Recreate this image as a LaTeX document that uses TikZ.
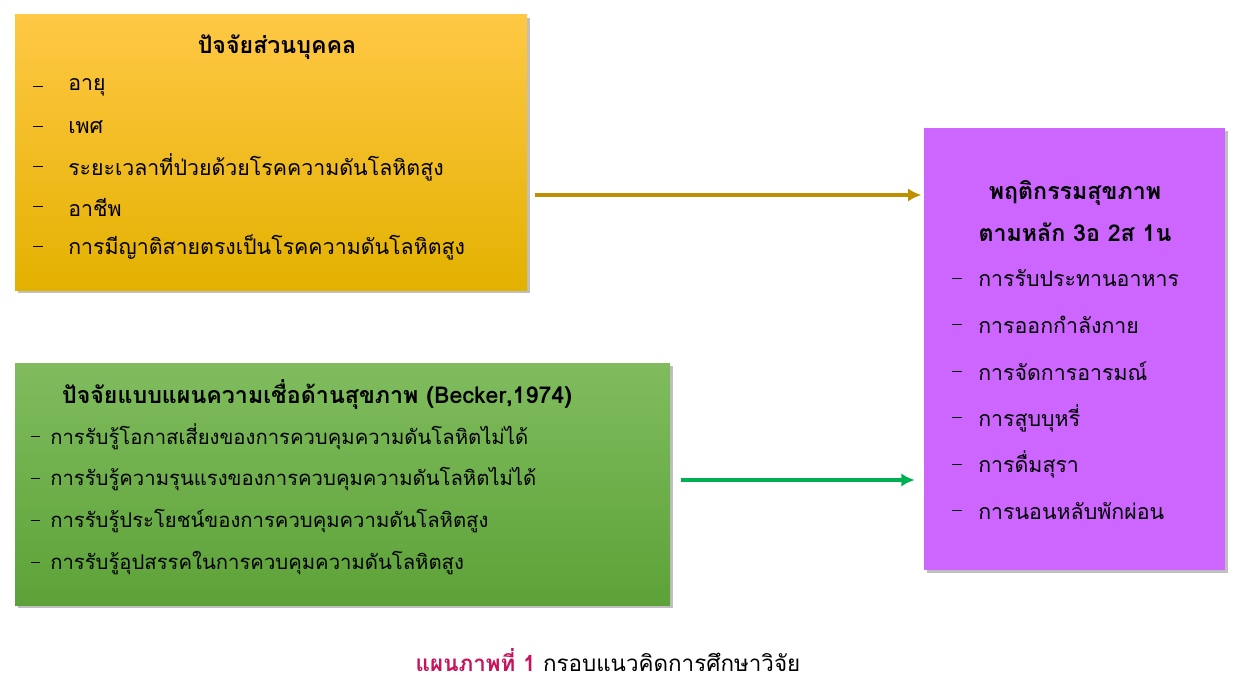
\documentclass[tikz,border=0pt]{standalone}
\usepackage{fontspec}
\newfontfamily\thaifont[Script=Thai]{Loma}
\usetikzlibrary{positioning, arrows.meta}
\definecolor{goldtop}{HTML}{FFC845}
\definecolor{goldbot}{HTML}{E3B100}
\definecolor{goldline}{HTML}{BF9000}
\definecolor{greentop}{HTML}{80BC5E}
\definecolor{greenbot}{HTML}{5DA238}
\definecolor{greenline}{HTML}{00B050}
\definecolor{violet}{HTML}{CC66FF}
\definecolor{capred}{HTML}{C8145C}
\newcommand{\dashmark}{\rule{0.45em}{0.6pt}}
\begin{document}
\begin{tikzpicture}[x=0.75pt, y=-0.75pt,
        every node/.style={font=\thaifont\fontsize{16}{18}\selectfont, inner sep=0pt},
        title/.style={font=\thaifont\bfseries\fontsize{17.4}{19}\selectfont},
        small/.style={font=\thaifont\fontsize{15.2}{18}\selectfont},
        item/.style={anchor=west},
        link/.style={line width=2.4pt, -{Latex[length=10pt,width=10pt]}},
    ]
        \useasboundingbox (0,0) rectangle (1247,685);
        % boxes
        \fill[black!25] (18,18) rectangle (530,293);
        \shade[top color=goldtop, bottom color=goldbot] (15,15) rectangle (527,290);
        \coordinate (personal) at (527,195);
        \fill[black!25] (18,366) rectangle (673,608);
        \shade[top color=greentop, bottom color=greenbot] (15,363) rectangle (670,605);
        \coordinate (belief) at (670,480);
        \fill[black!25] (927,131) rectangle (1228,573);
        \fill[violet] (924,128) rectangle (1225,570);
        \coordinate (behav) at (924,195);
        \coordinate (behavlow) at (924,480);

        % personal factors
        \node[title] (ptitle) at (277,47) {ปัจจัยส่วนบุคคล};
        \foreach \t [count=\i] in {อายุ, เพศ, ระยะเวลาที่ป่วยด้วยโรคความดันโลหิตสูง, อาชีพ, การมีญาติสายตรงเป็นโรคความดันโลหิตสูง} {
            \node[item] (pd\i) at (33,46.5+\i*40) {\dashmark};
            \node[item] (p\i) at (68,47+\i*40) {\t};
        }

        % health belief factors
        \node[title] (btitle) at (317,395) {ปัจจัยแบบแผนความเชื่อด้านสุขภาพ (Becker,1974)};
        \foreach \t [count=\i] in {การรับรู้โอกาสเสี่ยงของการควบคุมความดันโลหิตไม่ได้, การรับรู้ความรุนแรงของการควบคุมความดันโลหิตไม่ได้, การรับรู้ประโยชน์ของการควบคุมความดันโลหิตสูง, การรับรู้อุปสรรคในการควบคุมความดันโลหิตสูง} {
            \node[item, small] (bd\i) at (31,394.5+\i*42) {\dashmark};
            \node[item, small] (b\i) at (50,395+\i*42) {\t};
        }

        % behaviour
        \node[title] (htitle) at (1075,193) {พฤติกรรมสุขภาพ};
        \node[title] (htitle2) at (1075,232) {ตามหลัก 3อ 2ส 1น};
        \foreach \t [count=\i] in {การรับประทานอาหาร, การออกกำลังกาย, การจัดการอารมณ์, การสูบบุหรี่, การดื่มสุรา, การนอนหลับพักผ่อน} {
            \node[item] (hd\i) at (952,231.5+\i*46.5) {\dashmark};
            \node[item] (h\i) at (978,232+\i*46.5) {\t};
        }

        \draw[link, goldline, shorten <=6pt, shorten >=2pt] (personal) -- (behav);
        \draw[link, greenline, shorten <=8pt, shorten >=7pt] (belief) -- (behavlow);

        \node[font=\thaifont\fontsize{16.8}{18}\selectfont] (caption) at (608,660) {\textcolor{capred}{\bfseries แผนภาพที่ 1} กรอบแนวคิดการศึกษาวิจัย};
    \end{tikzpicture}
\end{document}
